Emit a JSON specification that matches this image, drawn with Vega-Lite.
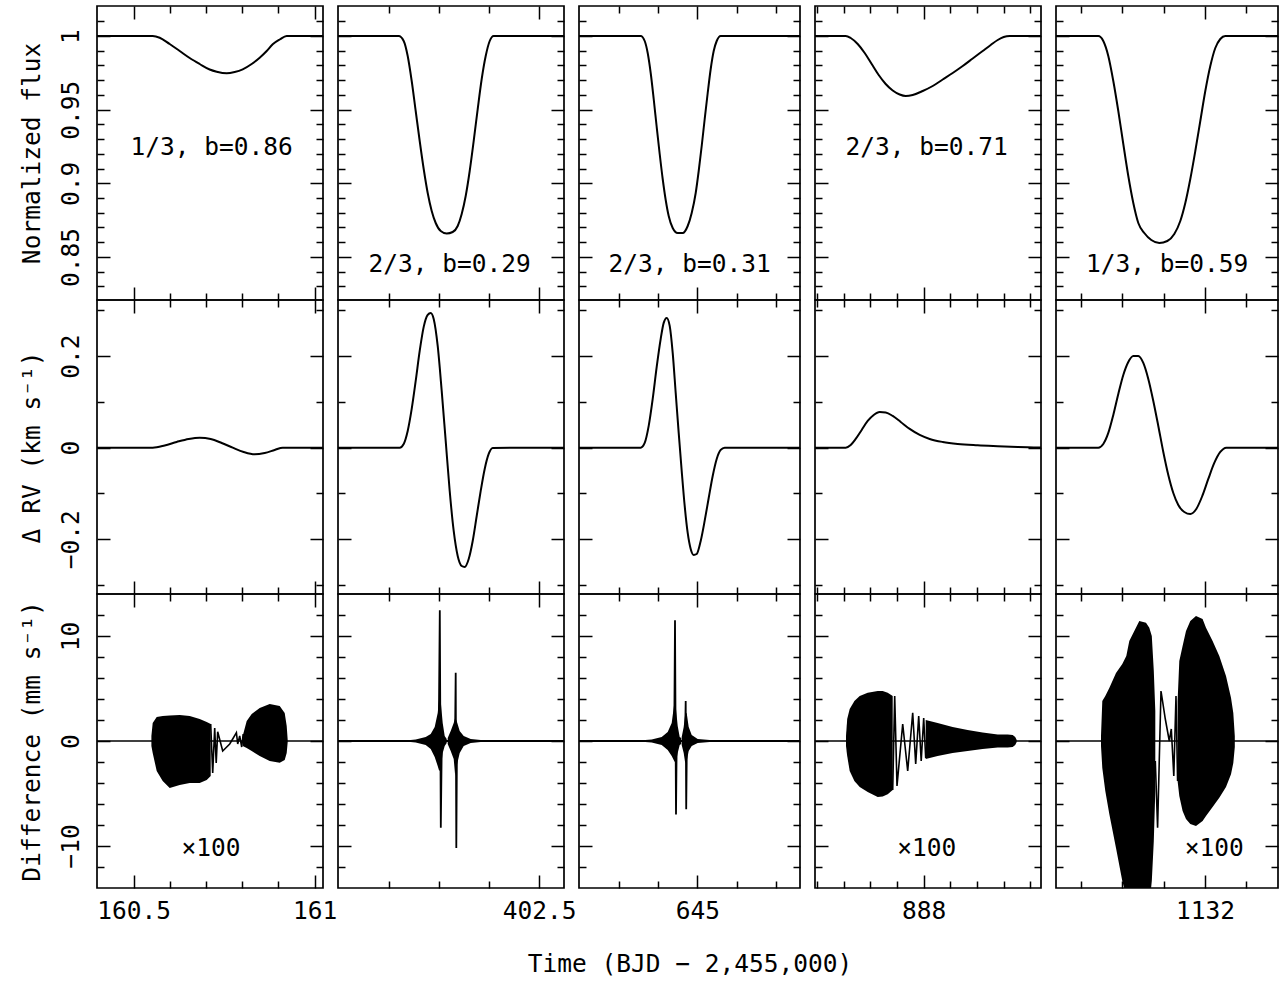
{
  "$schema": "https://vega.github.io/schema/vega-lite/v6.json",
  "background": "white",
  "padding": {"left": 18, "top": 4, "right": 0, "bottom": 4},
  "config": {
    "font": "DejaVu Sans Mono",
    "view": {"stroke": "black", "strokeWidth": 1.7},
    "axis": {"domain": false, "grid": false, "ticks": true, "tickColor": "black", "tickWidth": 1.5, "labels": false, "labelColor": "black", "labelFont": "DejaVu Sans Mono", "labelFontSize": 24.5, "labelOverlap": false, "labelFlush": false, "labelBound": false, "titleFont": "DejaVu Sans Mono", "titleFontSize": 24.5, "titleFontWeight": "normal", "titleColor": "black"},
    "line": {"color": "black", "strokeWidth": 2},
    "area": {"color": "black"},
    "text": {"font": "DejaVu Sans Mono", "fontSize": 24.5, "color": "black"}
  },
  "datasets": {
    "flux": [
      {"p":1,"t":160.39862,"f":1},{"p":1,"t":160.5525,"f":1},{"p":1,"t":160.5718,"f":0.99885},{"p":1,"t":160.5994,"f":0.99457},{"p":1,"t":160.6271,"f":0.98982},{"p":1,"t":160.6547,"f":0.98506},{"p":1,"t":160.6823,"f":0.98099},{"p":1,"t":160.7099,"f":0.97726},{"p":1,"t":160.7293,"f":0.97576},{"p":1,"t":160.7569,"f":0.97468},{"p":1,"t":160.779,"f":0.97556},{"p":1,"t":160.8011,"f":0.97739},{"p":1,"t":160.8259,"f":0.98099},{"p":1,"t":160.848,"f":0.98527},{"p":1,"t":160.8674,"f":0.98982},{"p":1,"t":160.884,"f":0.99436},{"p":1,"t":160.9033,"f":0.99762},{"p":1,"t":160.9226,"f":1},{"p":1,"t":161.02293,"f":1},
      {"p":2,"t":402.098,"f":1},{"p":2,"t":402.2194,"f":1},{"p":2,"t":402.2294,"f":0.99661},{"p":2,"t":402.2374,"f":0.98642},{"p":2,"t":402.2454,"f":0.96945},{"p":2,"t":402.2534,"f":0.94908},{"p":2,"t":402.2614,"f":0.92872},{"p":2,"t":402.2694,"f":0.90971},{"p":2,"t":402.2774,"f":0.89341},{"p":2,"t":402.2854,"f":0.88119},{"p":2,"t":402.2934,"f":0.87305},{"p":2,"t":402.3034,"f":0.86762},{"p":2,"t":402.3154,"f":0.86592},{"p":2,"t":402.3274,"f":0.86694},{"p":2,"t":402.3374,"f":0.87101},{"p":2,"t":402.3454,"f":0.87916},{"p":2,"t":402.3534,"f":0.89138},{"p":2,"t":402.3614,"f":0.90835},{"p":2,"t":402.3694,"f":0.92872},{"p":2,"t":402.3774,"f":0.95044},{"p":2,"t":402.3854,"f":0.97081},{"p":2,"t":402.3934,"f":0.98642},{"p":2,"t":402.4014,"f":0.99661},{"p":2,"t":402.4094,"f":1},{"p":2,"t":402.55,"f":1},
      {"p":3,"t":644.69873,"f":1},{"p":3,"t":644.85573,"f":1},{"p":3,"t":644.86591,"f":0.99661},{"p":3,"t":644.87354,"f":0.98846},{"p":3,"t":644.88117,"f":0.97488},{"p":3,"t":644.88881,"f":0.95723},{"p":3,"t":644.89644,"f":0.93822},{"p":3,"t":644.90407,"f":0.91989},{"p":3,"t":644.91171,"f":0.90292},{"p":3,"t":644.91934,"f":0.88866},{"p":3,"t":644.92697,"f":0.8778},{"p":3,"t":644.93715,"f":0.86965},{"p":3,"t":644.94988,"f":0.86626},{"p":3,"t":644.9626,"f":0.86626},{"p":3,"t":644.97533,"f":0.87101},{"p":3,"t":644.9855,"f":0.87984},{"p":3,"t":644.99568,"f":0.89341},{"p":3,"t":645.00331,"f":0.90835},{"p":3,"t":645.01094,"f":0.92532},{"p":3,"t":645.01858,"f":0.94365},{"p":3,"t":645.02621,"f":0.9613},{"p":3,"t":645.03384,"f":0.9776},{"p":3,"t":645.04148,"f":0.98982},{"p":3,"t":645.04911,"f":0.99661},{"p":3,"t":645.05929,"f":1},{"p":3,"t":645.26107,"f":1},
      {"p":4,"t":887.79619,"f":1},{"p":4,"t":887.85375,"f":1},{"p":4,"t":887.86313,"f":0.99864},{"p":4,"t":887.87625,"f":0.99457},{"p":4,"t":887.88938,"f":0.98846},{"p":4,"t":887.9025,"f":0.98099},{"p":4,"t":887.91563,"f":0.97352},{"p":4,"t":887.92875,"f":0.96741},{"p":4,"t":887.94188,"f":0.963},{"p":4,"t":887.955,"f":0.96028},{"p":4,"t":887.96625,"f":0.95927},{"p":4,"t":887.97938,"f":0.95995},{"p":4,"t":887.99813,"f":0.96266},{"p":4,"t":888.01688,"f":0.96606},{"p":4,"t":888.03563,"f":0.97047},{"p":4,"t":888.05438,"f":0.97488},{"p":4,"t":888.07313,"f":0.97963},{"p":4,"t":888.09188,"f":0.98473},{"p":4,"t":888.11063,"f":0.98982},{"p":4,"t":888.12563,"f":0.99389},{"p":4,"t":888.13875,"f":0.99728},{"p":4,"t":888.15,"f":0.99932},{"p":4,"t":888.16125,"f":1},{"p":4,"t":888.21994,"f":1},
      {"p":5,"t":1131.63923,"f":1},{"p":5,"t":1131.74165,"f":1},{"p":5,"t":1131.75376,"f":0.99661},{"p":5,"t":1131.76586,"f":0.98642},{"p":5,"t":1131.77797,"f":0.96945},{"p":5,"t":1131.79008,"f":0.94908},{"p":5,"t":1131.80218,"f":0.92668},{"p":5,"t":1131.81429,"f":0.90495},{"p":5,"t":1131.8264,"f":0.88663},{"p":5,"t":1131.8385,"f":0.87305},{"p":5,"t":1131.85303,"f":0.86626},{"p":5,"t":1131.86998,"f":0.86151},{"p":5,"t":1131.88935,"f":0.85947},{"p":5,"t":1131.90872,"f":0.86082},{"p":5,"t":1131.92567,"f":0.86558},{"p":5,"t":1131.9402,"f":0.87441},{"p":5,"t":1131.95231,"f":0.88663},{"p":5,"t":1131.96441,"f":0.90292},{"p":5,"t":1131.97652,"f":0.92193},{"p":5,"t":1131.98863,"f":0.94229},{"p":5,"t":1132.00073,"f":0.96266},{"p":5,"t":1132.01284,"f":0.97963},{"p":5,"t":1132.02494,"f":0.99185},{"p":5,"t":1132.03705,"f":0.99796},{"p":5,"t":1132.04916,"f":1},{"p":5,"t":1132.17676,"f":1}
    ],
    "rv": [
      {"p":1,"t":160.39862,"v":0},{"p":1,"t":160.55249,"v":0},{"p":1,"t":160.58564,"v":0.0048},{"p":1,"t":160.61879,"v":0.01245},{"p":1,"t":160.65193,"v":0.019},{"p":1,"t":160.68232,"v":0.02183},{"p":1,"t":160.71271,"v":0.019},{"p":1,"t":160.7431,"v":0.01026},{"p":1,"t":160.77348,"v":0},{"p":1,"t":160.80387,"v":-0.00939},{"p":1,"t":160.83426,"v":-0.01441},{"p":1,"t":160.86188,"v":-0.01157},{"p":1,"t":160.8895,"v":-0.00502},{"p":1,"t":160.9116,"v":0},{"p":1,"t":161.02293,"v":0},
      {"p":2,"t":402.098,"v":0},{"p":2,"t":402.2214,"v":0},{"p":2,"t":402.2294,"v":0.00808},{"p":2,"t":402.2374,"v":0.03646},{"p":2,"t":402.2454,"v":0.0845},{"p":2,"t":402.2534,"v":0.14563},{"p":2,"t":402.2614,"v":0.21114},{"p":2,"t":402.2694,"v":0.26354},{"p":2,"t":402.2774,"v":0.28974},{"p":2,"t":402.2834,"v":0.2941},{"p":2,"t":402.2894,"v":0.281},{"p":2,"t":402.2974,"v":0.22205},{"p":2,"t":402.3054,"v":0.1238},{"p":2,"t":402.3134,"v":0.01463},{"p":2,"t":402.3214,"v":-0.09454},{"p":2,"t":402.3294,"v":-0.18188},{"p":2,"t":402.3374,"v":-0.23646},{"p":2,"t":402.3454,"v":-0.2583},{"p":2,"t":402.3514,"v":-0.26048},{"p":2,"t":402.3594,"v":-0.24301},{"p":2,"t":402.3674,"v":-0.20371},{"p":2,"t":402.3754,"v":-0.14913},{"p":2,"t":402.3834,"v":-0.09454},{"p":2,"t":402.3914,"v":-0.04651},{"p":2,"t":402.3994,"v":-0.01376},{"p":2,"t":402.4074,"v":-0.00066},{"p":2,"t":402.55,"v":0},
      {"p":3,"t":644.69873,"v":0},{"p":3,"t":644.85573,"v":0},{"p":3,"t":644.86591,"v":0.01026},{"p":3,"t":644.87608,"v":0.04738},{"p":3,"t":644.88626,"v":0.10633},{"p":3,"t":644.89644,"v":0.1762},{"p":3,"t":644.90662,"v":0.23734},{"p":3,"t":644.91425,"v":0.27227},{"p":3,"t":644.92188,"v":0.28319},{"p":3,"t":644.92952,"v":0.26572},{"p":3,"t":644.93715,"v":0.20677},{"p":3,"t":644.94478,"v":0.11943},{"p":3,"t":644.95242,"v":0.0321},{"p":3,"t":644.96005,"v":-0.05087},{"p":3,"t":644.96768,"v":-0.12729},{"p":3,"t":644.97532,"v":-0.18624},{"p":3,"t":644.98295,"v":-0.22118},{"p":3,"t":644.99058,"v":-0.23428},{"p":3,"t":644.99822,"v":-0.2321},{"p":3,"t":645.00839,"v":-0.20371},{"p":3,"t":645.01857,"v":-0.15939},{"p":3,"t":645.02875,"v":-0.10983},{"p":3,"t":645.03893,"v":-0.06179},{"p":3,"t":645.0491,"v":-0.02467},{"p":3,"t":645.05928,"v":-0.00502},{"p":3,"t":645.06946,"v":0},{"p":3,"t":645.26107,"v":0},
      {"p":4,"t":887.79619,"v":0},{"p":4,"t":887.85375,"v":0},{"p":4,"t":887.86313,"v":0.0059},{"p":4,"t":887.8725,"v":0.019},{"p":4,"t":887.88375,"v":0.03865},{"p":4,"t":887.895,"v":0.0583},{"p":4,"t":887.90625,"v":0.0714},{"p":4,"t":887.9175,"v":0.07795},{"p":4,"t":887.92875,"v":0.07686},{"p":4,"t":887.94188,"v":0.06921},{"p":4,"t":887.95688,"v":0.05611},{"p":4,"t":887.97375,"v":0.04083},{"p":4,"t":887.9925,"v":0.02773},{"p":4,"t":888.01125,"v":0.019},{"p":4,"t":888.03563,"v":0.01245},{"p":4,"t":888.06375,"v":0.00808},{"p":4,"t":888.10125,"v":0.00524},{"p":4,"t":888.13875,"v":0.00328},{"p":4,"t":888.17625,"v":0.00153},{"p":4,"t":888.21994,"v":0.0004},
      {"p":5,"t":1131.63923,"v":0},{"p":5,"t":1131.74165,"v":0},{"p":5,"t":1131.75376,"v":0.00808},{"p":5,"t":1131.76586,"v":0.0321},{"p":5,"t":1131.77797,"v":0.0714},{"p":5,"t":1131.79008,"v":0.11725},{"p":5,"t":1131.80218,"v":0.15873},{"p":5,"t":1131.81429,"v":0.18712},{"p":5,"t":1131.8264,"v":0.20022},{"p":5,"t":1131.8385,"v":0.20022},{"p":5,"t":1131.85061,"v":0.18493},{"p":5,"t":1131.86271,"v":0.15},{"p":5,"t":1131.87482,"v":0.10197},{"p":5,"t":1131.88693,"v":0.04738},{"p":5,"t":1131.89903,"v":-0.00939},{"p":5,"t":1131.91114,"v":-0.05961},{"p":5,"t":1131.92325,"v":-0.09891},{"p":5,"t":1131.93535,"v":-0.12511},{"p":5,"t":1131.94988,"v":-0.14039},{"p":5,"t":1131.96441,"v":-0.14476},{"p":5,"t":1131.97894,"v":-0.13384},{"p":5,"t":1131.99346,"v":-0.10546},{"p":5,"t":1132.00799,"v":-0.06834},{"p":5,"t":1132.02252,"v":-0.03341},{"p":5,"t":1132.03705,"v":-0.00939},{"p":5,"t":1132.05158,"v":0},{"p":5,"t":1132.17676,"v":0}
    ],
    "env": [
      {"p":1,"g":"a","t":160.5489,"hi":0.476,"lo":-0.476},{"p":1,"g":"a","t":160.55249,"hi":1.714,"lo":-1.143},{"p":1,"g":"a","t":160.56354,"hi":2.286,"lo":-2.857},{"p":1,"g":"a","t":160.58011,"hi":2.381,"lo":-3.81},{"p":1,"g":"a","t":160.59945,"hi":2.429,"lo":-4.476},{"p":1,"g":"a","t":160.62707,"hi":2.476,"lo":-4.19},{"p":1,"g":"a","t":160.6547,"hi":2.381,"lo":-4.0},{"p":1,"g":"a","t":160.68232,"hi":2.095,"lo":-4.0},{"p":1,"g":"a","t":160.70166,"hi":1.81,"lo":-3.714},{"p":1,"g":"a","t":160.71271,"hi":1.619,"lo":-3.333},
      {"p":1,"g":"b","t":160.8011,"hi":0.476,"lo":-0.476},{"p":1,"g":"b","t":160.81215,"hi":1.905,"lo":-0.667},{"p":1,"g":"b","t":160.82596,"hi":2.571,"lo":-0.952},{"p":1,"g":"b","t":160.84806,"hi":3.143,"lo":-1.429},{"p":1,"g":"b","t":160.87569,"hi":3.524,"lo":-1.905},{"p":1,"g":"b","t":160.90331,"hi":3.333,"lo":-2.067},{"p":1,"g":"b","t":160.91712,"hi":2.667,"lo":-1.81},{"p":1,"g":"b","t":160.92265,"hi":1.429,"lo":-1.143},{"p":1,"g":"b","t":160.92541,"hi":0.095,"lo":-0.095},
      {"p":2,"g":"a","t":402.2334,"hi":0.048,"lo":-0.048},{"p":2,"g":"a","t":402.2534,"hi":0.143,"lo":-0.143},{"p":2,"g":"a","t":402.2734,"hi":0.381,"lo":-0.381},{"p":2,"g":"a","t":402.2834,"hi":0.667,"lo":-0.762},{"p":2,"g":"a","t":402.2914,"hi":1.333,"lo":-1.524},{"p":2,"g":"a","t":402.2974,"hi":2.667,"lo":-2.381},{"p":2,"g":"a","t":402.3004,"hi":4.095,"lo":-2.857},{"p":2,"g":"a","t":402.3034,"hi":3.81,"lo":-2.667},{"p":2,"g":"a","t":402.3074,"hi":1.714,"lo":-1.143},{"p":2,"g":"a","t":402.3114,"hi":0.476,"lo":-0.476},{"p":2,"g":"a","t":402.3154,"hi":0.19,"lo":-0.19},
      {"p":2,"g":"b","t":402.3174,"hi":0.286,"lo":-0.286},{"p":2,"g":"b","t":402.3234,"hi":0.952,"lo":-0.952},{"p":2,"g":"b","t":402.3294,"hi":1.714,"lo":-1.714},{"p":2,"g":"b","t":402.3324,"hi":2.219,"lo":-3.333},{"p":2,"g":"b","t":402.3354,"hi":1.905,"lo":-2.381},{"p":2,"g":"b","t":402.3414,"hi":0.952,"lo":-1.143},{"p":2,"g":"b","t":402.3494,"hi":0.476,"lo":-0.476},{"p":2,"g":"b","t":402.3634,"hi":0.19,"lo":-0.19},{"p":2,"g":"b","t":402.3834,"hi":0.095,"lo":-0.095},{"p":2,"g":"b","t":402.4034,"hi":0.048,"lo":-0.048},
      {"p":3,"g":"a","t":644.85064,"hi":0.048,"lo":-0.048},{"p":3,"g":"a","t":644.88372,"hi":0.143,"lo":-0.143},{"p":3,"g":"a","t":644.90917,"hi":0.381,"lo":-0.381},{"p":3,"g":"a","t":644.92443,"hi":0.857,"lo":-0.857},{"p":3,"g":"a","t":644.93461,"hi":1.714,"lo":-1.429},{"p":3,"g":"a","t":644.94097,"hi":3.524,"lo":-1.905},{"p":3,"g":"a","t":644.94479,"hi":3.333,"lo":-2.095},{"p":3,"g":"a","t":644.94988,"hi":1.429,"lo":-1.143},{"p":3,"g":"a","t":644.95497,"hi":0.381,"lo":-0.381},{"p":3,"g":"a","t":644.95878,"hi":0.286,"lo":-0.286},
      {"p":3,"g":"b","t":644.96005,"hi":0.381,"lo":-0.381},{"p":3,"g":"b","t":644.96514,"hi":1.333,"lo":-1.143},{"p":3,"g":"b","t":644.96896,"hi":2.571,"lo":-2.095},{"p":3,"g":"b","t":644.97278,"hi":2.667,"lo":-1.905},{"p":3,"g":"b","t":644.97786,"hi":1.333,"lo":-0.952},{"p":3,"g":"b","t":644.9855,"hi":0.571,"lo":-0.476},{"p":3,"g":"b","t":645.00076,"hi":0.19,"lo":-0.19},{"p":3,"g":"b","t":645.0313,"hi":0.095,"lo":-0.095},{"p":3,"g":"b","t":645.06947,"hi":0.029,"lo":-0.029},
      {"p":4,"g":"a","t":887.85432,"hi":0.476,"lo":-0.476},{"p":4,"g":"a","t":887.85657,"hi":2.095,"lo":-1.429},{"p":4,"g":"a","t":887.86125,"hi":3.048,"lo":-2.857},{"p":4,"g":"a","t":887.87006,"hi":3.81,"lo":-3.81},{"p":4,"g":"a","t":887.88,"hi":4.286,"lo":-4.381},{"p":4,"g":"a","t":887.895,"hi":4.6,"lo":-4.857},{"p":4,"g":"a","t":887.91375,"hi":4.762,"lo":-5.333},{"p":4,"g":"a","t":887.92313,"hi":4.762,"lo":-5.286},{"p":4,"g":"a","t":887.9325,"hi":4.6,"lo":-5.076},{"p":4,"g":"a","t":887.94188,"hi":4.286,"lo":-4.667},
      {"p":4,"g":"b","t":888.00375,"hi":2.0,"lo":-1.714},{"p":4,"g":"b","t":888.02607,"hi":1.714,"lo":-1.429},{"p":4,"g":"b","t":888.05419,"hi":1.333,"lo":-1.143},{"p":4,"g":"b","t":888.08232,"hi":1.048,"lo":-0.952},{"p":4,"g":"b","t":888.11044,"hi":0.81,"lo":-0.762},{"p":4,"g":"b","t":888.13875,"hi":0.619,"lo":-0.619},{"p":4,"g":"b","t":888.1575,"hi":0.619,"lo":-0.619},{"p":4,"g":"b","t":888.16688,"hi":0.571,"lo":-0.571},{"p":4,"g":"b","t":888.17157,"hi":0.381,"lo":-0.381},{"p":4,"g":"b","t":888.17438,"hi":0.095,"lo":-0.095},
      {"p":5,"g":"a","t":1131.74819,"hi":0.476,"lo":-0.476},{"p":5,"g":"a","t":1131.75134,"hi":3.81,"lo":-2.571},{"p":5,"g":"a","t":1131.7586,"hi":4.286,"lo":-4.762},{"p":5,"g":"a","t":1131.76829,"hi":5.048,"lo":-6.952},{"p":5,"g":"a","t":1131.78451,"hi":6.476,"lo":-10.19},{"p":5,"g":"a","t":1131.79976,"hi":7.333,"lo":-13.333},{"p":5,"g":"a","t":1131.80945,"hi":8.095,"lo":-14.762},{"p":5,"g":"a","t":1131.81671,"hi":9.524,"lo":-15.714},{"p":5,"g":"a","t":1131.82882,"hi":10.476,"lo":-16.667},{"p":5,"g":"a","t":1131.84092,"hi":11.429,"lo":-17.143},{"p":5,"g":"a","t":1131.85715,"hi":11.267,"lo":-16.667},{"p":5,"g":"a","t":1131.86514,"hi":10.79,"lo":-15.714},{"p":5,"g":"a","t":1131.87119,"hi":10.0,"lo":-13.333},{"p":5,"g":"a","t":1131.87603,"hi":6.667,"lo":-9.524},{"p":5,"g":"a","t":1131.87967,"hi":2.857,"lo":-4.762},
      {"p":5,"g":"b","t":1131.93366,"hi":3.81,"lo":-3.81},{"p":5,"g":"b","t":1131.93778,"hi":7.619,"lo":-5.238},{"p":5,"g":"b","t":1131.94577,"hi":9.048,"lo":-6.667},{"p":5,"g":"b","t":1131.954,"hi":10.476,"lo":-7.429},{"p":5,"g":"b","t":1131.96441,"hi":11.429,"lo":-7.905},{"p":5,"g":"b","t":1131.97821,"hi":11.905,"lo":-8.095},{"p":5,"g":"b","t":1131.99419,"hi":11.619,"lo":-7.619},{"p":5,"g":"b","t":1132.00243,"hi":10.79,"lo":-7.143},{"p":5,"g":"b","t":1132.01841,"hi":9.524,"lo":-6.286},{"p":5,"g":"b","t":1132.03463,"hi":8.095,"lo":-5.4},{"p":5,"g":"b","t":1132.05085,"hi":6.19,"lo":-4.381},{"p":5,"g":"b","t":1132.06296,"hi":4.124,"lo":-3.171},{"p":5,"g":"b","t":1132.06853,"hi":2.667,"lo":-2.095},{"p":5,"g":"b","t":1132.07216,"hi":0.476,"lo":-0.571}
    ],
    "osc": [
      {"p":1,"g":"z","t":160.39862,"d":0},{"p":1,"g":"z","t":161.02293,"d":0},
      {"p":1,"g":"w","t":160.71271,"d":1.619},{"p":1,"g":"w","t":160.71823,"d":-3.048},{"p":1,"g":"w","t":160.72376,"d":1.238},{"p":1,"g":"w","t":160.7279,"d":-2.095},{"p":1,"g":"w","t":160.73204,"d":0.886},{"p":1,"g":"w","t":160.74586,"d":-0.952},{"p":1,"g":"w","t":160.76519,"d":-0.286},{"p":1,"g":"w","t":160.77348,"d":0.19},{"p":1,"g":"w","t":160.7837,"d":0.79},{"p":1,"g":"w","t":160.78729,"d":-0.286},{"p":1,"g":"w","t":160.79282,"d":0.476},{"p":1,"g":"w","t":160.79834,"d":-0.571},{"p":1,"g":"w","t":160.80249,"d":0.667},
      {"p":2,"g":"z","t":402.098,"d":0},{"p":2,"g":"z","t":402.55,"d":0},
      {"p":2,"g":"s1","t":402.2994,"d":0},{"p":2,"g":"s1","t":402.3016,"d":12.45},{"p":2,"g":"s1","t":402.3036,"d":-8.25},{"p":2,"g":"s1","t":402.3056,"d":0},
      {"p":2,"g":"s2","t":402.332,"d":0},{"p":2,"g":"s2","t":402.3334,"d":6.5},{"p":2,"g":"s2","t":402.3346,"d":-10.2},{"p":2,"g":"s2","t":402.336,"d":0},
      {"p":3,"g":"z","t":644.69873,"d":0},{"p":3,"g":"z","t":645.26107,"d":0},
      {"p":3,"g":"s1","t":644.94097,"d":0},{"p":3,"g":"s1","t":644.94301,"d":11.5},{"p":3,"g":"s1","t":644.94555,"d":-7.0},{"p":3,"g":"s1","t":644.94733,"d":0},
      {"p":3,"g":"s2","t":644.96845,"d":0},{"p":3,"g":"s2","t":644.97023,"d":3.8},{"p":3,"g":"s2","t":644.9715,"d":-6.5},{"p":3,"g":"s2","t":644.97328,"d":0},
      {"p":4,"g":"z","t":887.79619,"d":0},{"p":4,"g":"z","t":888.21994,"d":0},
      {"p":4,"g":"w","t":887.94188,"d":-4.667},{"p":4,"g":"w","t":887.94563,"d":4.286},{"p":4,"g":"w","t":887.94994,"d":-4.286},{"p":4,"g":"w","t":887.96063,"d":1.619},{"p":4,"g":"w","t":887.97,"d":-2.857},{"p":4,"g":"w","t":887.97938,"d":2.695},{"p":4,"g":"w","t":887.985,"d":-2.19},{"p":4,"g":"w","t":887.99063,"d":2.381},{"p":4,"g":"w","t":887.99532,"d":-1.905},{"p":4,"g":"w","t":888.0,"d":2.19},{"p":4,"g":"w","t":888.00375,"d":-1.619},
      {"p":5,"g":"z","t":1131.63923,"d":0},{"p":5,"g":"z","t":1132.17676,"d":0},
      {"p":5,"g":"w","t":1131.87967,"d":-1.905},{"p":5,"g":"w","t":1131.88523,"d":-8.257},{"p":5,"g":"w","t":1131.89347,"d":4.762},{"p":5,"g":"w","t":1131.90388,"d":2.095},{"p":5,"g":"w","t":1131.91356,"d":0},{"p":5,"g":"w","t":1131.91841,"d":1.143},{"p":5,"g":"w","t":1131.92446,"d":-3.333},{"p":5,"g":"w","t":1131.92979,"d":4.286},{"p":5,"g":"w","t":1131.93366,"d":-3.81}
    ]
  },
  "columns": 5,
  "spacing": {"row": 0, "column": 15},
  "bounds": "flush",
  "concat": [
    {
      "width": 226, "height": 294,
      "data": {"name": "flux"}, "transform": [{"filter": "datum.p == 1"}],
      "resolve": {"axis": {"x": "independent", "y": "independent"}},
      "layer": [
        {"mark": {"type": "line", "clip": true, "interpolate": "monotone"}, "encoding": {
          "x": {"field": "t", "type": "quantitative", "scale": {"domain": [160.39862, 161.02293], "nice": false, "zero": false}, "axis": {"orient": "bottom", "values": [160.5, 161], "tickSize": -13, "title": null}},
          "y": {"field": "f", "type": "quantitative", "scale": {"domain": [0.82077, 1.02037], "nice": false, "zero": false}, "axis": {"orient": "left", "values": [0.85, 0.9, 0.95, 1], "tickSize": -13, "labels": true, "labelAngle": -90, "labelAlign": "center", "labelBaseline": "bottom", "labelPadding": 26.3, "format": "~r", "title": "Normalized flux", "titlePadding": 14}}}},
        {"mark": {"type": "point", "opacity": 0}, "encoding": {
          "x": {"field": "t", "type": "quantitative", "axis": {"orient": "top", "values": [160.5, 161], "tickSize": -13, "title": null}},
          "y": {"field": "f", "type": "quantitative", "axis": {"orient": "right", "values": [0.85, 0.9, 0.95, 1], "tickSize": -13, "title": null}}}},
        {"mark": {"type": "point", "opacity": 0}, "encoding": {
          "x": {"field": "t", "type": "quantitative", "axis": {"orient": "bottom", "values": [160.6, 160.7, 160.8, 160.9], "tickSize": -7, "title": null}},
          "y": {"field": "f", "type": "quantitative", "axis": {"orient": "left", "values": [0.83, 0.84, 0.86, 0.87, 0.88, 0.89, 0.91, 0.92, 0.93, 0.94, 0.96, 0.97, 0.98, 0.99, 1.01], "tickSize": -7, "title": null}}}},
        {"mark": {"type": "point", "opacity": 0}, "encoding": {
          "x": {"field": "t", "type": "quantitative", "axis": {"orient": "top", "values": [160.6, 160.7, 160.8, 160.9], "tickSize": -7, "title": null}},
          "y": {"field": "f", "type": "quantitative", "axis": {"orient": "right", "values": [0.83, 0.84, 0.86, 0.87, 0.88, 0.89, 0.91, 0.92, 0.93, 0.94, 0.96, 0.97, 0.98, 0.99, 1.01], "tickSize": -7, "title": null}}}},
        {"data": {"values": [{"p": 1}]}, "mark": {"type": "text", "baseline": "middle", "align": "center"}, "encoding": {
          "x": {"datum": 160.7155, "type": "quantitative", "axis": null},
          "y": {"datum": 0.924, "type": "quantitative", "axis": null},
          "text": {"value": "1/3, b=0.86"}}}
      ]
    },
    {
      "width": 226, "height": 294,
      "data": {"name": "flux"}, "transform": [{"filter": "datum.p == 2"}],
      "resolve": {"axis": {"x": "independent", "y": "independent"}},
      "layer": [
        {"mark": {"type": "line", "clip": true, "interpolate": "monotone"}, "encoding": {
          "x": {"field": "t", "type": "quantitative", "scale": {"domain": [402.098, 402.55], "nice": false, "zero": false}, "axis": {"orient": "bottom", "values": [402.5], "tickSize": -13, "title": null}},
          "y": {"field": "f", "type": "quantitative", "scale": {"domain": [0.82077, 1.02037], "nice": false, "zero": false}, "axis": {"orient": "left", "values": [0.85, 0.9, 0.95, 1], "tickSize": -13, "title": null}}}},
        {"mark": {"type": "point", "opacity": 0}, "encoding": {
          "x": {"field": "t", "type": "quantitative", "axis": {"orient": "top", "values": [402.5], "tickSize": -13, "title": null}},
          "y": {"field": "f", "type": "quantitative", "axis": {"orient": "right", "values": [0.85, 0.9, 0.95, 1], "tickSize": -13, "title": null}}}},
        {"mark": {"type": "point", "opacity": 0}, "encoding": {
          "x": {"field": "t", "type": "quantitative", "axis": {"orient": "bottom", "values": [402.2, 402.3, 402.4], "tickSize": -7, "title": null}},
          "y": {"field": "f", "type": "quantitative", "axis": {"orient": "left", "values": [0.83, 0.84, 0.86, 0.87, 0.88, 0.89, 0.91, 0.92, 0.93, 0.94, 0.96, 0.97, 0.98, 0.99, 1.01], "tickSize": -7, "title": null}}}},
        {"mark": {"type": "point", "opacity": 0}, "encoding": {
          "x": {"field": "t", "type": "quantitative", "axis": {"orient": "top", "values": [402.2, 402.3, 402.4], "tickSize": -7, "title": null}},
          "y": {"field": "f", "type": "quantitative", "axis": {"orient": "right", "values": [0.83, 0.84, 0.86, 0.87, 0.88, 0.89, 0.91, 0.92, 0.93, 0.94, 0.96, 0.97, 0.98, 0.99, 1.01], "tickSize": -7, "title": null}}}},
        {"data": {"values": [{"p": 2}]}, "mark": {"type": "text", "baseline": "middle", "align": "center"}, "encoding": {
          "x": {"datum": 402.3214, "type": "quantitative", "axis": null},
          "y": {"datum": 0.8445, "type": "quantitative", "axis": null},
          "text": {"value": "2/3, b=0.29"}}}
      ]
    },
    {
      "width": 221, "height": 294,
      "data": {"name": "flux"}, "transform": [{"filter": "datum.p == 3"}],
      "resolve": {"axis": {"x": "independent", "y": "independent"}},
      "layer": [
        {"mark": {"type": "line", "clip": true, "interpolate": "monotone"}, "encoding": {
          "x": {"field": "t", "type": "quantitative", "scale": {"domain": [644.69873, 645.26107], "nice": false, "zero": false}, "axis": {"orient": "bottom", "values": [645], "tickSize": -13, "title": null}},
          "y": {"field": "f", "type": "quantitative", "scale": {"domain": [0.82077, 1.02037], "nice": false, "zero": false}, "axis": {"orient": "left", "values": [0.85, 0.9, 0.95, 1], "tickSize": -13, "title": null}}}},
        {"mark": {"type": "point", "opacity": 0}, "encoding": {
          "x": {"field": "t", "type": "quantitative", "axis": {"orient": "top", "values": [645], "tickSize": -13, "title": null}},
          "y": {"field": "f", "type": "quantitative", "axis": {"orient": "right", "values": [0.85, 0.9, 0.95, 1], "tickSize": -13, "title": null}}}},
        {"mark": {"type": "point", "opacity": 0}, "encoding": {
          "x": {"field": "t", "type": "quantitative", "axis": {"orient": "bottom", "values": [644.8, 644.9, 645.1, 645.2], "tickSize": -7, "title": null}},
          "y": {"field": "f", "type": "quantitative", "axis": {"orient": "left", "values": [0.83, 0.84, 0.86, 0.87, 0.88, 0.89, 0.91, 0.92, 0.93, 0.94, 0.96, 0.97, 0.98, 0.99, 1.01], "tickSize": -7, "title": null}}}},
        {"mark": {"type": "point", "opacity": 0}, "encoding": {
          "x": {"field": "t", "type": "quantitative", "axis": {"orient": "top", "values": [644.8, 644.9, 645.1, 645.2], "tickSize": -7, "title": null}},
          "y": {"field": "f", "type": "quantitative", "axis": {"orient": "right", "values": [0.83, 0.84, 0.86, 0.87, 0.88, 0.89, 0.91, 0.92, 0.93, 0.94, 0.96, 0.97, 0.98, 0.99, 1.01], "tickSize": -7, "title": null}}}},
        {"data": {"values": [{"p": 3}]}, "mark": {"type": "text", "baseline": "middle", "align": "center"}, "encoding": {
          "x": {"datum": 644.9804, "type": "quantitative", "axis": null},
          "y": {"datum": 0.8445, "type": "quantitative", "axis": null},
          "text": {"value": "2/3, b=0.31"}}}
      ]
    },
    {
      "width": 226, "height": 294,
      "data": {"name": "flux"}, "transform": [{"filter": "datum.p == 4"}],
      "resolve": {"axis": {"x": "independent", "y": "independent"}},
      "layer": [
        {"mark": {"type": "line", "clip": true, "interpolate": "monotone"}, "encoding": {
          "x": {"field": "t", "type": "quantitative", "scale": {"domain": [887.79619, 888.21994], "nice": false, "zero": false}, "axis": {"orient": "bottom", "values": [888], "tickSize": -13, "title": null}},
          "y": {"field": "f", "type": "quantitative", "scale": {"domain": [0.82077, 1.02037], "nice": false, "zero": false}, "axis": {"orient": "left", "values": [0.85, 0.9, 0.95, 1], "tickSize": -13, "title": null}}}},
        {"mark": {"type": "point", "opacity": 0}, "encoding": {
          "x": {"field": "t", "type": "quantitative", "axis": {"orient": "top", "values": [888], "tickSize": -13, "title": null}},
          "y": {"field": "f", "type": "quantitative", "axis": {"orient": "right", "values": [0.85, 0.9, 0.95, 1], "tickSize": -13, "title": null}}}},
        {"mark": {"type": "point", "opacity": 0}, "encoding": {
          "x": {"field": "t", "type": "quantitative", "axis": {"orient": "bottom", "values": [887.8, 887.85, 887.9, 887.95, 888.05, 888.1, 888.15, 888.2], "tickSize": -7, "title": null}},
          "y": {"field": "f", "type": "quantitative", "axis": {"orient": "left", "values": [0.83, 0.84, 0.86, 0.87, 0.88, 0.89, 0.91, 0.92, 0.93, 0.94, 0.96, 0.97, 0.98, 0.99, 1.01], "tickSize": -7, "title": null}}}},
        {"mark": {"type": "point", "opacity": 0}, "encoding": {
          "x": {"field": "t", "type": "quantitative", "axis": {"orient": "top", "values": [887.8, 887.85, 887.9, 887.95, 888.05, 888.1, 888.15, 888.2], "tickSize": -7, "title": null}},
          "y": {"field": "f", "type": "quantitative", "axis": {"orient": "right", "values": [0.83, 0.84, 0.86, 0.87, 0.88, 0.89, 0.91, 0.92, 0.93, 0.94, 0.96, 0.97, 0.98, 0.99, 1.01], "tickSize": -7, "title": null}}}},
        {"data": {"values": [{"p": 4}]}, "mark": {"type": "text", "baseline": "middle", "align": "center"}, "encoding": {
          "x": {"datum": 888.0057, "type": "quantitative", "axis": null},
          "y": {"datum": 0.924, "type": "quantitative", "axis": null},
          "text": {"value": "2/3, b=0.71"}}}
      ]
    },
    {
      "width": 222, "height": 294,
      "data": {"name": "flux"}, "transform": [{"filter": "datum.p == 5"}],
      "resolve": {"axis": {"x": "independent", "y": "independent"}},
      "layer": [
        {"mark": {"type": "line", "clip": true, "interpolate": "monotone"}, "encoding": {
          "x": {"field": "t", "type": "quantitative", "scale": {"domain": [1131.63923, 1132.17676], "nice": false, "zero": false}, "axis": {"orient": "bottom", "values": [1132], "tickSize": -13, "title": null}},
          "y": {"field": "f", "type": "quantitative", "scale": {"domain": [0.82077, 1.02037], "nice": false, "zero": false}, "axis": {"orient": "left", "values": [0.85, 0.9, 0.95, 1], "tickSize": -13, "title": null}}}},
        {"mark": {"type": "point", "opacity": 0}, "encoding": {
          "x": {"field": "t", "type": "quantitative", "axis": {"orient": "top", "values": [1132], "tickSize": -13, "title": null}},
          "y": {"field": "f", "type": "quantitative", "axis": {"orient": "right", "values": [0.85, 0.9, 0.95, 1], "tickSize": -13, "title": null}}}},
        {"mark": {"type": "point", "opacity": 0}, "encoding": {
          "x": {"field": "t", "type": "quantitative", "axis": {"orient": "bottom", "values": [1131.7, 1131.8, 1131.9, 1132.1], "tickSize": -7, "title": null}},
          "y": {"field": "f", "type": "quantitative", "axis": {"orient": "left", "values": [0.83, 0.84, 0.86, 0.87, 0.88, 0.89, 0.91, 0.92, 0.93, 0.94, 0.96, 0.97, 0.98, 0.99, 1.01], "tickSize": -7, "title": null}}}},
        {"mark": {"type": "point", "opacity": 0}, "encoding": {
          "x": {"field": "t", "type": "quantitative", "axis": {"orient": "top", "values": [1131.7, 1131.8, 1131.9, 1132.1], "tickSize": -7, "title": null}},
          "y": {"field": "f", "type": "quantitative", "axis": {"orient": "right", "values": [0.83, 0.84, 0.86, 0.87, 0.88, 0.89, 0.91, 0.92, 0.93, 0.94, 0.96, 0.97, 0.98, 0.99, 1.01], "tickSize": -7, "title": null}}}},
        {"data": {"values": [{"p": 5}]}, "mark": {"type": "text", "baseline": "middle", "align": "center"}, "encoding": {
          "x": {"datum": 1131.9085, "type": "quantitative", "axis": null},
          "y": {"datum": 0.8445, "type": "quantitative", "axis": null},
          "text": {"value": "1/3, b=0.59"}}}
      ]
    },
    {
      "width": 226, "height": 294,
      "data": {"name": "rv"}, "transform": [{"filter": "datum.p == 1"}],
      "resolve": {"axis": {"x": "independent", "y": "independent"}},
      "layer": [
        {"mark": {"type": "line", "clip": true, "interpolate": "monotone"}, "encoding": {
          "x": {"field": "t", "type": "quantitative", "scale": {"domain": [160.39862, 161.02293], "nice": false, "zero": false}, "axis": {"orient": "bottom", "values": [160.5, 161], "tickSize": -13, "title": null}},
          "y": {"field": "v", "type": "quantitative", "scale": {"domain": [-0.31943, 0.32227], "nice": false, "zero": false}, "axis": {"orient": "left", "values": [-0.2, 0, 0.2], "tickSize": -13, "labels": true, "labelAngle": -90, "labelAlign": "center", "labelBaseline": "bottom", "labelPadding": 26.3, "format": "~r", "title": "Δ RV (km s⁻¹)", "titlePadding": 14}}}},
        {"mark": {"type": "point", "opacity": 0}, "encoding": {
          "x": {"field": "t", "type": "quantitative", "axis": {"orient": "top", "values": [160.5, 161], "tickSize": -13, "title": null}},
          "y": {"field": "v", "type": "quantitative", "axis": {"orient": "right", "values": [-0.2, 0, 0.2], "tickSize": -13, "title": null}}}},
        {"mark": {"type": "point", "opacity": 0}, "encoding": {
          "x": {"field": "t", "type": "quantitative", "axis": {"orient": "bottom", "values": [160.6, 160.7, 160.8, 160.9], "tickSize": -7, "title": null}},
          "y": {"field": "v", "type": "quantitative", "axis": {"orient": "left", "values": [-0.3, -0.1, 0.1, 0.3], "tickSize": -7, "title": null}}}},
        {"mark": {"type": "point", "opacity": 0}, "encoding": {
          "x": {"field": "t", "type": "quantitative", "axis": {"orient": "top", "values": [160.6, 160.7, 160.8, 160.9], "tickSize": -7, "title": null}},
          "y": {"field": "v", "type": "quantitative", "axis": {"orient": "right", "values": [-0.3, -0.1, 0.1, 0.3], "tickSize": -7, "title": null}}}}
      ]
    },
    {
      "width": 226, "height": 294,
      "data": {"name": "rv"}, "transform": [{"filter": "datum.p == 2"}],
      "resolve": {"axis": {"x": "independent", "y": "independent"}},
      "layer": [
        {"mark": {"type": "line", "clip": true, "interpolate": "monotone"}, "encoding": {
          "x": {"field": "t", "type": "quantitative", "scale": {"domain": [402.098, 402.55], "nice": false, "zero": false}, "axis": {"orient": "bottom", "values": [402.5], "tickSize": -13, "title": null}},
          "y": {"field": "v", "type": "quantitative", "scale": {"domain": [-0.31943, 0.32227], "nice": false, "zero": false}, "axis": {"orient": "left", "values": [-0.2, 0, 0.2], "tickSize": -13, "title": null}}}},
        {"mark": {"type": "point", "opacity": 0}, "encoding": {
          "x": {"field": "t", "type": "quantitative", "axis": {"orient": "top", "values": [402.5], "tickSize": -13, "title": null}},
          "y": {"field": "v", "type": "quantitative", "axis": {"orient": "right", "values": [-0.2, 0, 0.2], "tickSize": -13, "title": null}}}},
        {"mark": {"type": "point", "opacity": 0}, "encoding": {
          "x": {"field": "t", "type": "quantitative", "axis": {"orient": "bottom", "values": [402.2, 402.3, 402.4], "tickSize": -7, "title": null}},
          "y": {"field": "v", "type": "quantitative", "axis": {"orient": "left", "values": [-0.3, -0.1, 0.1, 0.3], "tickSize": -7, "title": null}}}},
        {"mark": {"type": "point", "opacity": 0}, "encoding": {
          "x": {"field": "t", "type": "quantitative", "axis": {"orient": "top", "values": [402.2, 402.3, 402.4], "tickSize": -7, "title": null}},
          "y": {"field": "v", "type": "quantitative", "axis": {"orient": "right", "values": [-0.3, -0.1, 0.1, 0.3], "tickSize": -7, "title": null}}}}
      ]
    },
    {
      "width": 221, "height": 294,
      "data": {"name": "rv"}, "transform": [{"filter": "datum.p == 3"}],
      "resolve": {"axis": {"x": "independent", "y": "independent"}},
      "layer": [
        {"mark": {"type": "line", "clip": true, "interpolate": "monotone"}, "encoding": {
          "x": {"field": "t", "type": "quantitative", "scale": {"domain": [644.69873, 645.26107], "nice": false, "zero": false}, "axis": {"orient": "bottom", "values": [645], "tickSize": -13, "title": null}},
          "y": {"field": "v", "type": "quantitative", "scale": {"domain": [-0.31943, 0.32227], "nice": false, "zero": false}, "axis": {"orient": "left", "values": [-0.2, 0, 0.2], "tickSize": -13, "title": null}}}},
        {"mark": {"type": "point", "opacity": 0}, "encoding": {
          "x": {"field": "t", "type": "quantitative", "axis": {"orient": "top", "values": [645], "tickSize": -13, "title": null}},
          "y": {"field": "v", "type": "quantitative", "axis": {"orient": "right", "values": [-0.2, 0, 0.2], "tickSize": -13, "title": null}}}},
        {"mark": {"type": "point", "opacity": 0}, "encoding": {
          "x": {"field": "t", "type": "quantitative", "axis": {"orient": "bottom", "values": [644.8, 644.9, 645.1, 645.2], "tickSize": -7, "title": null}},
          "y": {"field": "v", "type": "quantitative", "axis": {"orient": "left", "values": [-0.3, -0.1, 0.1, 0.3], "tickSize": -7, "title": null}}}},
        {"mark": {"type": "point", "opacity": 0}, "encoding": {
          "x": {"field": "t", "type": "quantitative", "axis": {"orient": "top", "values": [644.8, 644.9, 645.1, 645.2], "tickSize": -7, "title": null}},
          "y": {"field": "v", "type": "quantitative", "axis": {"orient": "right", "values": [-0.3, -0.1, 0.1, 0.3], "tickSize": -7, "title": null}}}}
      ]
    },
    {
      "width": 226, "height": 294,
      "data": {"name": "rv"}, "transform": [{"filter": "datum.p == 4"}],
      "resolve": {"axis": {"x": "independent", "y": "independent"}},
      "layer": [
        {"mark": {"type": "line", "clip": true, "interpolate": "monotone"}, "encoding": {
          "x": {"field": "t", "type": "quantitative", "scale": {"domain": [887.79619, 888.21994], "nice": false, "zero": false}, "axis": {"orient": "bottom", "values": [888], "tickSize": -13, "title": null}},
          "y": {"field": "v", "type": "quantitative", "scale": {"domain": [-0.31943, 0.32227], "nice": false, "zero": false}, "axis": {"orient": "left", "values": [-0.2, 0, 0.2], "tickSize": -13, "title": null}}}},
        {"mark": {"type": "point", "opacity": 0}, "encoding": {
          "x": {"field": "t", "type": "quantitative", "axis": {"orient": "top", "values": [888], "tickSize": -13, "title": null}},
          "y": {"field": "v", "type": "quantitative", "axis": {"orient": "right", "values": [-0.2, 0, 0.2], "tickSize": -13, "title": null}}}},
        {"mark": {"type": "point", "opacity": 0}, "encoding": {
          "x": {"field": "t", "type": "quantitative", "axis": {"orient": "bottom", "values": [887.8, 887.85, 887.9, 887.95, 888.05, 888.1, 888.15, 888.2], "tickSize": -7, "title": null}},
          "y": {"field": "v", "type": "quantitative", "axis": {"orient": "left", "values": [-0.3, -0.1, 0.1, 0.3], "tickSize": -7, "title": null}}}},
        {"mark": {"type": "point", "opacity": 0}, "encoding": {
          "x": {"field": "t", "type": "quantitative", "axis": {"orient": "top", "values": [887.8, 887.85, 887.9, 887.95, 888.05, 888.1, 888.15, 888.2], "tickSize": -7, "title": null}},
          "y": {"field": "v", "type": "quantitative", "axis": {"orient": "right", "values": [-0.3, -0.1, 0.1, 0.3], "tickSize": -7, "title": null}}}}
      ]
    },
    {
      "width": 222, "height": 294,
      "data": {"name": "rv"}, "transform": [{"filter": "datum.p == 5"}],
      "resolve": {"axis": {"x": "independent", "y": "independent"}},
      "layer": [
        {"mark": {"type": "line", "clip": true, "interpolate": "monotone"}, "encoding": {
          "x": {"field": "t", "type": "quantitative", "scale": {"domain": [1131.63923, 1132.17676], "nice": false, "zero": false}, "axis": {"orient": "bottom", "values": [1132], "tickSize": -13, "title": null}},
          "y": {"field": "v", "type": "quantitative", "scale": {"domain": [-0.31943, 0.32227], "nice": false, "zero": false}, "axis": {"orient": "left", "values": [-0.2, 0, 0.2], "tickSize": -13, "title": null}}}},
        {"mark": {"type": "point", "opacity": 0}, "encoding": {
          "x": {"field": "t", "type": "quantitative", "axis": {"orient": "top", "values": [1132], "tickSize": -13, "title": null}},
          "y": {"field": "v", "type": "quantitative", "axis": {"orient": "right", "values": [-0.2, 0, 0.2], "tickSize": -13, "title": null}}}},
        {"mark": {"type": "point", "opacity": 0}, "encoding": {
          "x": {"field": "t", "type": "quantitative", "axis": {"orient": "bottom", "values": [1131.7, 1131.8, 1131.9, 1132.1], "tickSize": -7, "title": null}},
          "y": {"field": "v", "type": "quantitative", "axis": {"orient": "left", "values": [-0.3, -0.1, 0.1, 0.3], "tickSize": -7, "title": null}}}},
        {"mark": {"type": "point", "opacity": 0}, "encoding": {
          "x": {"field": "t", "type": "quantitative", "axis": {"orient": "top", "values": [1131.7, 1131.8, 1131.9, 1132.1], "tickSize": -7, "title": null}},
          "y": {"field": "v", "type": "quantitative", "axis": {"orient": "right", "values": [-0.3, -0.1, 0.1, 0.3], "tickSize": -7, "title": null}}}}
      ]
    },
    {
      "width": 226, "height": 294,
      "data": {"name": "osc"}, "transform": [{"filter": "datum.p == 1"}],
      "resolve": {"axis": {"x": "independent", "y": "independent"}},
      "layer": [
        {"data": {"name": "env"}, "transform": [{"filter": "datum.p == 1"}], "mark": {"type": "area", "clip": true}, "encoding": {
          "x": {"field": "t", "type": "quantitative", "axis": null},
          "y": {"field": "hi", "type": "quantitative", "axis": null},
          "y2": {"field": "lo"},
          "detail": {"field": "g"}}},
        {"mark": {"type": "line", "clip": true, "strokeWidth": 1.6}, "encoding": {
          "x": {"field": "t", "type": "quantitative", "scale": {"domain": [160.39862, 161.02293], "nice": false, "zero": false}, "axis": {"orient": "bottom", "values": [160.5, 161], "tickSize": -13, "labels": true, "labelPadding": 24.3, "format": "~r", "title": null}},
          "y": {"field": "d", "type": "quantitative", "scale": {"domain": [-14, 14], "nice": false, "zero": false}, "axis": {"orient": "left", "values": [-10, 0, 10], "tickSize": -13, "labels": true, "labelAngle": -90, "labelAlign": "center", "labelBaseline": "bottom", "labelPadding": 26.3, "format": "~r", "title": "Difference (mm s⁻¹)", "titlePadding": 14}},
          "detail": {"field": "g"}}},
        {"mark": {"type": "point", "opacity": 0}, "encoding": {
          "x": {"field": "t", "type": "quantitative", "axis": {"orient": "top", "values": [160.5, 161], "tickSize": -13, "title": null}},
          "y": {"field": "d", "type": "quantitative", "axis": {"orient": "right", "values": [-10, 0, 10], "tickSize": -13, "title": null}}}},
        {"mark": {"type": "point", "opacity": 0}, "encoding": {
          "x": {"field": "t", "type": "quantitative", "axis": {"orient": "bottom", "values": [160.6, 160.7, 160.8, 160.9], "tickSize": -7, "title": null}},
          "y": {"field": "d", "type": "quantitative", "axis": {"orient": "left", "values": [-12, -8, -6, -4, -2, 2, 4, 6, 8, 12], "tickSize": -7, "title": null}}}},
        {"mark": {"type": "point", "opacity": 0}, "encoding": {
          "x": {"field": "t", "type": "quantitative", "axis": {"orient": "top", "values": [160.6, 160.7, 160.8, 160.9], "tickSize": -7, "title": null}},
          "y": {"field": "d", "type": "quantitative", "axis": {"orient": "right", "values": [-12, -8, -6, -4, -2, 2, 4, 6, 8, 12], "tickSize": -7, "title": null}}}},
        {"data": {"values": [{"p": 1}]}, "mark": {"type": "text", "baseline": "middle", "align": "center"}, "encoding": {
          "x": {"datum": 160.7135, "type": "quantitative", "axis": null},
          "y": {"datum": -10.29, "type": "quantitative", "axis": null},
          "text": {"value": "×100"}}}
      ]
    },
    {
      "width": 226, "height": 294,
      "data": {"name": "osc"}, "transform": [{"filter": "datum.p == 2"}],
      "resolve": {"axis": {"x": "independent", "y": "independent"}},
      "layer": [
        {"data": {"name": "env"}, "transform": [{"filter": "datum.p == 2"}], "mark": {"type": "area", "clip": true}, "encoding": {
          "x": {"field": "t", "type": "quantitative", "axis": null},
          "y": {"field": "hi", "type": "quantitative", "axis": null},
          "y2": {"field": "lo"},
          "detail": {"field": "g"}}},
        {"mark": {"type": "line", "clip": true, "strokeWidth": 1.8}, "encoding": {
          "x": {"field": "t", "type": "quantitative", "scale": {"domain": [402.098, 402.55], "nice": false, "zero": false}, "axis": {"orient": "bottom", "values": [402.5], "tickSize": -13, "labels": true, "labelPadding": 24.3, "format": "~r", "title": null}},
          "y": {"field": "d", "type": "quantitative", "scale": {"domain": [-14, 14], "nice": false, "zero": false}, "axis": {"orient": "left", "values": [-10, 0, 10], "tickSize": -13, "title": null}},
          "detail": {"field": "g"}}},
        {"mark": {"type": "point", "opacity": 0}, "encoding": {
          "x": {"field": "t", "type": "quantitative", "axis": {"orient": "top", "values": [402.5], "tickSize": -13, "title": null}},
          "y": {"field": "d", "type": "quantitative", "axis": {"orient": "right", "values": [-10, 0, 10], "tickSize": -13, "title": null}}}},
        {"mark": {"type": "point", "opacity": 0}, "encoding": {
          "x": {"field": "t", "type": "quantitative", "axis": {"orient": "bottom", "values": [402.2, 402.3, 402.4], "tickSize": -7, "title": null}},
          "y": {"field": "d", "type": "quantitative", "axis": {"orient": "left", "values": [-12, -8, -6, -4, -2, 2, 4, 6, 8, 12], "tickSize": -7, "title": null}}}},
        {"mark": {"type": "point", "opacity": 0}, "encoding": {
          "x": {"field": "t", "type": "quantitative", "axis": {"orient": "top", "values": [402.2, 402.3, 402.4], "tickSize": -7, "title": null}},
          "y": {"field": "d", "type": "quantitative", "axis": {"orient": "right", "values": [-12, -8, -6, -4, -2, 2, 4, 6, 8, 12], "tickSize": -7, "title": null}}}}
      ]
    },
    {
      "width": 221, "height": 294,
      "data": {"name": "osc"}, "transform": [{"filter": "datum.p == 3"}],
      "resolve": {"axis": {"x": "independent", "y": "independent"}},
      "layer": [
        {"data": {"name": "env"}, "transform": [{"filter": "datum.p == 3"}], "mark": {"type": "area", "clip": true}, "encoding": {
          "x": {"field": "t", "type": "quantitative", "axis": null},
          "y": {"field": "hi", "type": "quantitative", "axis": null},
          "y2": {"field": "lo"},
          "detail": {"field": "g"}}},
        {"mark": {"type": "line", "clip": true, "strokeWidth": 1.8}, "encoding": {
          "x": {"field": "t", "type": "quantitative", "scale": {"domain": [644.69873, 645.26107], "nice": false, "zero": false}, "axis": {"orient": "bottom", "values": [645], "tickSize": -13, "labels": true, "labelPadding": 24.3, "format": "~r", "title": "Time (BJD − 2,455,000)", "titlePadding": 30}},
          "y": {"field": "d", "type": "quantitative", "scale": {"domain": [-14, 14], "nice": false, "zero": false}, "axis": {"orient": "left", "values": [-10, 0, 10], "tickSize": -13, "title": null}},
          "detail": {"field": "g"}}},
        {"mark": {"type": "point", "opacity": 0}, "encoding": {
          "x": {"field": "t", "type": "quantitative", "axis": {"orient": "top", "values": [645], "tickSize": -13, "title": null}},
          "y": {"field": "d", "type": "quantitative", "axis": {"orient": "right", "values": [-10, 0, 10], "tickSize": -13, "title": null}}}},
        {"mark": {"type": "point", "opacity": 0}, "encoding": {
          "x": {"field": "t", "type": "quantitative", "axis": {"orient": "bottom", "values": [644.8, 644.9, 645.1, 645.2], "tickSize": -7, "title": null}},
          "y": {"field": "d", "type": "quantitative", "axis": {"orient": "left", "values": [-12, -8, -6, -4, -2, 2, 4, 6, 8, 12], "tickSize": -7, "title": null}}}},
        {"mark": {"type": "point", "opacity": 0}, "encoding": {
          "x": {"field": "t", "type": "quantitative", "axis": {"orient": "top", "values": [644.8, 644.9, 645.1, 645.2], "tickSize": -7, "title": null}},
          "y": {"field": "d", "type": "quantitative", "axis": {"orient": "right", "values": [-12, -8, -6, -4, -2, 2, 4, 6, 8, 12], "tickSize": -7, "title": null}}}}
      ]
    },
    {
      "width": 226, "height": 294,
      "data": {"name": "osc"}, "transform": [{"filter": "datum.p == 4"}],
      "resolve": {"axis": {"x": "independent", "y": "independent"}},
      "layer": [
        {"data": {"name": "env"}, "transform": [{"filter": "datum.p == 4"}], "mark": {"type": "area", "clip": true}, "encoding": {
          "x": {"field": "t", "type": "quantitative", "axis": null},
          "y": {"field": "hi", "type": "quantitative", "axis": null},
          "y2": {"field": "lo"},
          "detail": {"field": "g"}}},
        {"mark": {"type": "line", "clip": true, "strokeWidth": 1.6}, "encoding": {
          "x": {"field": "t", "type": "quantitative", "scale": {"domain": [887.79619, 888.21994], "nice": false, "zero": false}, "axis": {"orient": "bottom", "values": [888], "tickSize": -13, "labels": true, "labelPadding": 24.3, "format": "~r", "title": null}},
          "y": {"field": "d", "type": "quantitative", "scale": {"domain": [-14, 14], "nice": false, "zero": false}, "axis": {"orient": "left", "values": [-10, 0, 10], "tickSize": -13, "title": null}},
          "detail": {"field": "g"}}},
        {"mark": {"type": "point", "opacity": 0}, "encoding": {
          "x": {"field": "t", "type": "quantitative", "axis": {"orient": "top", "values": [888], "tickSize": -13, "title": null}},
          "y": {"field": "d", "type": "quantitative", "axis": {"orient": "right", "values": [-10, 0, 10], "tickSize": -13, "title": null}}}},
        {"mark": {"type": "point", "opacity": 0}, "encoding": {
          "x": {"field": "t", "type": "quantitative", "axis": {"orient": "bottom", "values": [887.8, 887.85, 887.9, 887.95, 888.05, 888.1, 888.15, 888.2], "tickSize": -7, "title": null}},
          "y": {"field": "d", "type": "quantitative", "axis": {"orient": "left", "values": [-12, -8, -6, -4, -2, 2, 4, 6, 8, 12], "tickSize": -7, "title": null}}}},
        {"mark": {"type": "point", "opacity": 0}, "encoding": {
          "x": {"field": "t", "type": "quantitative", "axis": {"orient": "top", "values": [887.8, 887.85, 887.9, 887.95, 888.05, 888.1, 888.15, 888.2], "tickSize": -7, "title": null}},
          "y": {"field": "d", "type": "quantitative", "axis": {"orient": "right", "values": [-12, -8, -6, -4, -2, 2, 4, 6, 8, 12], "tickSize": -7, "title": null}}}},
        {"data": {"values": [{"p": 4}]}, "mark": {"type": "text", "baseline": "middle", "align": "center"}, "encoding": {
          "x": {"datum": 888.0057, "type": "quantitative", "axis": null},
          "y": {"datum": -10.29, "type": "quantitative", "axis": null},
          "text": {"value": "×100"}}}
      ]
    },
    {
      "width": 222, "height": 294,
      "data": {"name": "osc"}, "transform": [{"filter": "datum.p == 5"}],
      "resolve": {"axis": {"x": "independent", "y": "independent"}},
      "layer": [
        {"data": {"name": "env"}, "transform": [{"filter": "datum.p == 5"}], "mark": {"type": "area", "clip": true}, "encoding": {
          "x": {"field": "t", "type": "quantitative", "axis": null},
          "y": {"field": "hi", "type": "quantitative", "axis": null},
          "y2": {"field": "lo"},
          "detail": {"field": "g"}}},
        {"mark": {"type": "line", "clip": true, "strokeWidth": 1.6}, "encoding": {
          "x": {"field": "t", "type": "quantitative", "scale": {"domain": [1131.63923, 1132.17676], "nice": false, "zero": false}, "axis": {"orient": "bottom", "values": [1132], "tickSize": -13, "labels": true, "labelPadding": 24.3, "format": "~r", "title": null}},
          "y": {"field": "d", "type": "quantitative", "scale": {"domain": [-14, 14], "nice": false, "zero": false}, "axis": {"orient": "left", "values": [-10, 0, 10], "tickSize": -13, "title": null}},
          "detail": {"field": "g"}}},
        {"mark": {"type": "point", "opacity": 0}, "encoding": {
          "x": {"field": "t", "type": "quantitative", "axis": {"orient": "top", "values": [1132], "tickSize": -13, "title": null}},
          "y": {"field": "d", "type": "quantitative", "axis": {"orient": "right", "values": [-10, 0, 10], "tickSize": -13, "title": null}}}},
        {"mark": {"type": "point", "opacity": 0}, "encoding": {
          "x": {"field": "t", "type": "quantitative", "axis": {"orient": "bottom", "values": [1131.7, 1131.8, 1131.9, 1132.1], "tickSize": -7, "title": null}},
          "y": {"field": "d", "type": "quantitative", "axis": {"orient": "left", "values": [-12, -8, -6, -4, -2, 2, 4, 6, 8, 12], "tickSize": -7, "title": null}}}},
        {"mark": {"type": "point", "opacity": 0}, "encoding": {
          "x": {"field": "t", "type": "quantitative", "axis": {"orient": "top", "values": [1131.7, 1131.8, 1131.9, 1132.1], "tickSize": -7, "title": null}},
          "y": {"field": "d", "type": "quantitative", "axis": {"orient": "right", "values": [-12, -8, -6, -4, -2, 2, 4, 6, 8, 12], "tickSize": -7, "title": null}}}},
        {"data": {"values": [{"p": 5}]}, "mark": {"type": "text", "baseline": "middle", "align": "center"}, "encoding": {
          "x": {"datum": 1132.0223, "type": "quantitative", "axis": null},
          "y": {"datum": -10.29, "type": "quantitative", "axis": null},
          "text": {"value": "×100"}}}
      ]
    }
  ]
}
